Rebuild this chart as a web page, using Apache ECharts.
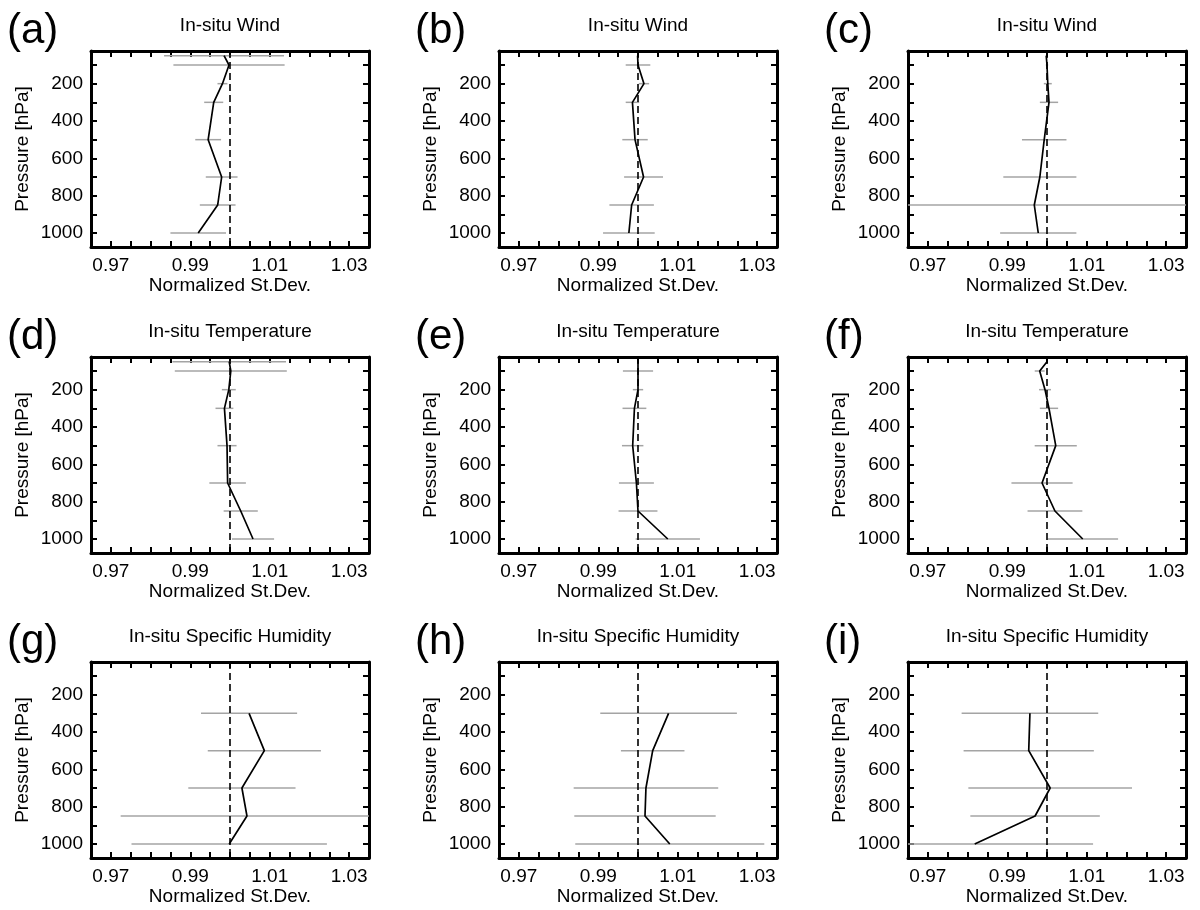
<!DOCTYPE html>
<html>
<head>
<meta charset="utf-8">
<title>Normalized St.Dev. profiles</title>
<script src="https://cdn.jsdelivr.net/npm/echarts@6/dist/echarts.min.js"></script>
<style>
  html, body { margin: 0; padding: 0; background: #fff; }
  #chart { width: 1200px; height: 910px; }
</style>
</head>
<body>
<div id="chart"></div>
<script>
// pressure levels [hPa]
const levelsUpper = [50, 100, 200, 300, 500, 700, 850, 1000];
const levelsHum = [300, 500, 700, 850, 1000];

// normalized st.dev. (line) and error half-widths (grey bars)
const sdA = [0.9985, 0.99975, 0.9981, 0.9959, 0.9945, 0.9979, 0.9969, 0.9920];
const errA = [0.0151, 0.0140, 0.00125, 0.0024, 0.00325, 0.0040, 0.0045, 0.0070];
const sdB = [0.9999, 1.0000, 1.0015, 0.9986, 0.99925, 1.0014, 0.9984, 0.9977];
const errB = [0.0, 0.0031, 0.0013, 0.0017, 0.0032, 0.0049, 0.0056, 0.0065];
const sdC = [0.9998, 1.0000, 1.0002, 1.0005, 0.9993, 0.9982, 0.9968, 0.9978];
const errC = [0.0, 0.0003, 0.0010, 0.0023, 0.0056, 0.0092, 0.0600, 0.0096];
const sdD = [0.9998, 1.0002, 0.9997, 0.9986, 0.99925, 0.9994, 1.0027, 1.0058];
const errD = [0.0143, 0.0141, 0.00175, 0.00225, 0.0024, 0.0046, 0.0043, 0.0053];
const sdE = [1.0000, 1.0000, 1.0000, 0.9991, 0.99866, 0.9996, 1.0000, 1.0075];
const errE = [0.0, 0.0038, 0.0013, 0.0030, 0.0027, 0.0044, 0.0049, 0.0081];
const sdF = [1.0000, 0.99816, 0.9995, 1.0005, 1.0022, 0.99875, 1.0020, 1.0090];
const errF = [0.0, 0.00125, 0.0015, 0.0023, 0.0053, 0.0077, 0.0069, 0.0089];
const sdG = [1.0048, 1.00865, 1.0030, 1.00427, 0.9998];
const errG = [0.0121, 0.01425, 0.0135, 0.0318, 0.0246];
const sdH = [1.0077, 1.0037, 1.0020, 1.00176, 1.0080];
const errH = [0.0172, 0.0080, 0.0182, 0.0178, 0.0238];
const sdI = [0.9957, 0.9954, 1.0008, 0.9970, 0.9818];
const errI = [0.0172, 0.0164, 0.0206, 0.0163, 0.0298];

const panelLabels = ['(a)', '(b)', '(c)', '(d)', '(e)', '(f)', '(g)', '(h)', '(i)'];
const panelTitles = ['In-situ Wind', 'In-situ Wind', 'In-situ Wind',
  'In-situ Temperature', 'In-situ Temperature', 'In-situ Temperature',
  'In-situ Specific Humidity', 'In-situ Specific Humidity', 'In-situ Specific Humidity'];

// axis ticks / labels
const xTickValues = [0.970, 0.975, 0.980, 0.985, 0.990, 0.995, 1.000, 1.005,
  1.010, 1.015, 1.020, 1.025, 1.030];
const xLabelValues = [0.97, 0.99, 1.01, 1.03];
const xLabelTexts = ['0.97', '0.99', '1.01', '1.03'];
const yTickValues = [100, 200, 300, 400, 500, 600, 700, 800, 900, 1000];
const yLabelValues = [200, 400, 600, 800, 1000];

const panels = [
  [levelsUpper, sdA, errA], [levelsUpper, sdB, errB], [levelsUpper, sdC, errC],
  [levelsUpper, sdD, errD], [levelsUpper, sdE, errE], [levelsUpper, sdF, errF],
  [levelsHum, sdG, errG], [levelsHum, sdH, errH], [levelsHum, sdI, errI]
];

const X_MIN = 0.965, X_MAX = 1.035, Y_MIN = 25, Y_MAX = 1075;
const colLeft = [91, 499, 908];
const rowTop = [51, 357, 662];
const plotW = 278, plotH = 196;
const FONT = 'Liberation Sans, Arial, Helvetica, sans-serif';

const grids = [], xAxes = [], yAxes = [], series = [], graphics = [];

const frame = { show: true, onZero: false, lineStyle: { color: '#000', width: 3 } };
const ticks = (vals) => ({ show: true, inside: true, length: 6, customValues: vals,
  lineStyle: { color: '#000', width: 2 } });

panels.forEach((p, i) => {
  const r = Math.floor(i / 3), c = i % 3;
  const [lev, sd, err] = p;
  grids.push({ left: colLeft[c], top: rowTop[r], width: plotW, height: plotH });

  xAxes.push({
    type: 'value', gridIndex: i, position: 'bottom', min: X_MIN, max: X_MAX,
    axisLine: frame, axisTick: ticks(xTickValues), splitLine: { show: false },
    axisLabel: {
      customValues: xLabelValues, margin: 9, color: '#000', fontSize: 19, fontFamily: FONT,
      formatter: v => {
        const k = xLabelValues.findIndex(t => Math.abs(t - v) < 1e-6);
        return k >= 0 ? xLabelTexts[k] : '';
      }
    },
    name: 'Normalized St.Dev.', nameLocation: 'middle', nameGap: 23,
    nameTextStyle: { color: '#000', fontSize: 19, fontFamily: FONT }
  });
  xAxes.push({
    type: 'value', gridIndex: i, position: 'top', min: X_MIN, max: X_MAX,
    axisLine: frame, axisTick: ticks(xTickValues), splitLine: { show: false },
    axisLabel: { show: false }
  });
  yAxes.push({
    type: 'value', gridIndex: i, position: 'left', inverse: true, min: Y_MIN, max: Y_MAX,
    axisLine: frame, axisTick: ticks(yTickValues), splitLine: { show: false },
    axisLabel: { customValues: yLabelValues, margin: 8, color: '#000', fontSize: 19,
      fontFamily: FONT, formatter: v => String(v) },
    name: 'Pressure [hPa]', nameLocation: 'middle', nameGap: 59,
    nameTextStyle: { color: '#000', fontSize: 19, fontFamily: FONT }
  });
  yAxes.push({
    type: 'value', gridIndex: i, position: 'right', inverse: true, min: Y_MIN, max: Y_MAX,
    axisLine: frame, axisTick: ticks(yTickValues), splitLine: { show: false },
    axisLabel: { show: false }
  });

  const rows = lev.map((l, k) => [sd[k], l, err[k]]);

  // grey error bars
  series.push({
    type: 'custom', xAxisIndex: 2 * i, yAxisIndex: 2 * i, clip: true, silent: true, z: 2,
    data: rows,
    renderItem: (params, api) => {
      const x = api.value(0), y = api.value(1), e = api.value(2);
      if (!(e > 0)) return null;
      const p1 = api.coord([Math.max(X_MIN, x - e), y]);
      const p2 = api.coord([Math.min(X_MAX, x + e), y]);
      return { type: 'line', shape: { x1: p1[0], y1: p1[1], x2: p2[0], y2: p2[1] },
        style: { stroke: '#a4a4a4', lineWidth: 1.5 } };
    }
  });

  // profile line + dashed reference at 1.0
  series.push({
    type: 'line', xAxisIndex: 2 * i, yAxisIndex: 2 * i, data: rows.map(d => [d[0], d[1]]),
    symbol: 'none', silent: true, z: 4, clip: true,
    lineStyle: { color: '#000', width: 1.7 },
    markLine: {
      silent: true, symbol: 'none', label: { show: false }, animation: false,
      lineStyle: { color: '#000', width: 1.6, type: [7, 4] },
      data: [{ xAxis: 1.0 }]
    }
  });

  graphics.push({
    type: 'text', x: colLeft[c] + plotW / 2, y: rowTop[r] - 25,
    style: { text: panelTitles[i], font: '19px ' + FONT, fill: '#000',
      textAlign: 'center', textVerticalAlign: 'middle' }
  });
  graphics.push({
    type: 'text', x: colLeft[c] - 84, y: rowTop[r] - 20,
    style: { text: panelLabels[i], font: '42px ' + FONT, fill: '#000',
      textAlign: 'left', textVerticalAlign: 'middle' }
  });
});

const chart = echarts.init(document.getElementById('chart'), null, { renderer: 'canvas' });
chart.setOption({
  animation: false,
  backgroundColor: '#fff',
  grid: grids,
  xAxis: xAxes,
  yAxis: yAxes,
  series: series,
  graphic: graphics
});
</script>
</body>
</html>
